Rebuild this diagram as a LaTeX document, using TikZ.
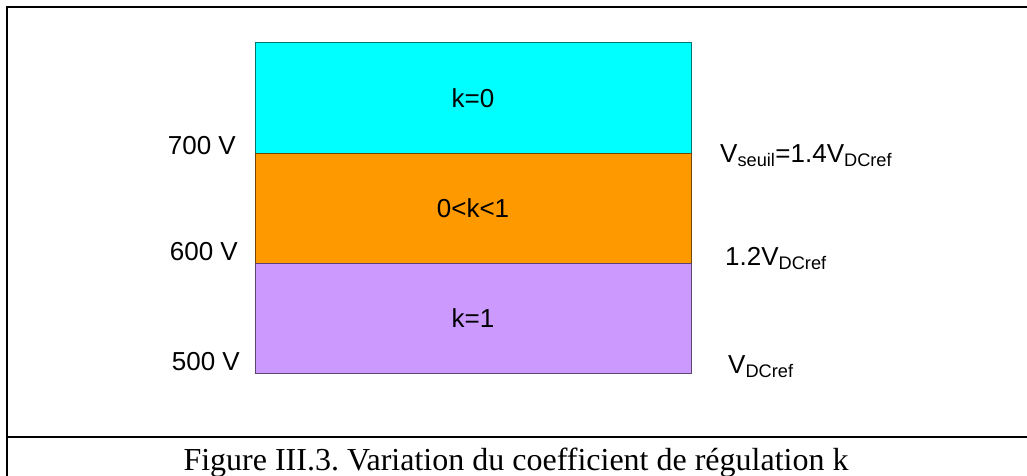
\documentclass[tikz,border=0pt]{standalone}
\usepackage{fontspec}
\setmainfont{Liberation Serif}
\newfontfamily\arialfont{Liberation Sans}
\usepackage{xcolor}
\usepackage{tikz}
\usetikzlibrary{positioning}
\frenchspacing

\definecolor{cyanband}{HTML}{00FFFF}
\definecolor{orangeband}{HTML}{FF9900}
\definecolor{violetband}{HTML}{CC99FF}

\begin{document}
\begin{tikzpicture}[
    x=1pt, y=-1pt,
    band/.style={draw=#1!45!black, fill=#1, line width=1pt, minimum width=436pt, minimum height=110pt, outer sep=0pt, inner sep=0pt, font=\arialfont\fontsize{26}{30}\selectfont},
    lbl/.style={inner sep=0pt, font=\arialfont\fontsize{26}{30}\selectfont},
    frameline/.style={line width=2.4pt, black}
  ]
    \useasboundingbox (0,0) rectangle (1027,476);

    % Frame
    \coordinate (fbl) at (7,476);
    \coordinate (ftl) at (7,7);
    \coordinate (ftr) at (1027,7);
    \coordinate (fml) at (7,437);
    \coordinate (fmr) at (1027,437);
    \draw[frameline] (fbl) -- (ftl) -- (ftr);
    \draw[frameline] (fml) -- (fmr);

    % Bands
    \node[band=cyanband] (kzero) at (473,98) {k=0};
    \node[band=orangeband, below=0pt of kzero] (kmid) {0<k<1};
    \node[band=violetband, below=0pt of kmid] (kone) {k=1};

    % Voltages on the left
    \node[lbl, anchor=base east] (v700) at (236,154) {700 V};
    \node[lbl, anchor=base east] (v600) at (238,260) {600 V};
    \node[lbl, anchor=base east] (v500) at (240,370) {500 V};

    % Thresholds on the right
    \node[lbl, anchor=base west] (vseuil) at (720,162) {V\textsubscript{seuil}=1.4V\textsubscript{DCref}};
    \node[lbl, anchor=base west] (vmid) at (725,265) {1.2V\textsubscript{DCref}};
    \node[lbl, anchor=base west] (vref) at (728,373) {V\textsubscript{DCref}};

    % Caption
    \node[inner sep=0pt, anchor=base, font=\fontsize{32}{36}\selectfont] (caption) at (516,470) {Figure III.3. Variation du coefficient de régulation k};

  \end{tikzpicture}
\end{document}
